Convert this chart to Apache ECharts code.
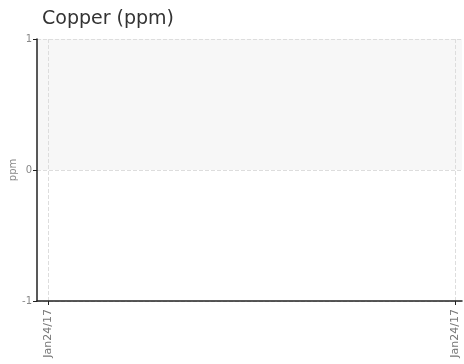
<!DOCTYPE html>
<html lang="en">
<head>
  <meta charset="UTF-8">
  <title>Copper (ppm)</title>
  <script src="https://cdn.jsdelivr.net/npm/echarts@6/dist/echarts.min.js"></script>
</head>
<body style="margin:0">
  <div id="main" style="width:464px;height:364px;"></div>
  <script type="text/javascript">
    // data
    var dateTicks = [0, 1];
    var dateLabels = ['Jan24/17', 'Jan24/17'];
    var yTicks = [-1, 0, 1];
    var copperValues = [];

    var myChart = echarts.init(document.getElementById('main'));

    var option = {
      animation: false,
      title: {
        text: 'Copper (ppm)',
        left: 37,
        top: 5,
        textStyle: { fontFamily: 'DejaVu Sans', fontSize: 19, fontWeight: 'normal', color: '#333' }
      },
      grid: { left: 37, top: 39, right: 2, bottom: 63, outerBoundsMode: 'none', containLabel: false },
      xAxis: {
        type: 'value',
        min: -0.027,
        max: 1.017,
        axisLine: { onZero: false, lineStyle: { color: '#222', width: 1.5 } },
        axisTick: { customValues: dateTicks, length: 4, lineStyle: { color: '#222' } },
        axisLabel: {
          customValues: dateTicks,
          rotate: 90,
          color: '#777',
          fontSize: 11,
          fontFamily: 'DejaVu Sans',
          formatter: function (v) { return dateLabels[dateTicks.indexOf(v)]; }
        },
        splitLine: { show: true, lineStyle: { color: '#ddd', type: 'dashed' } }
      },
      yAxis: {
        type: 'value',
        min: yTicks[0],
        max: yTicks[yTicks.length - 1],
        interval: 1,
        name: 'ppm',
        nameLocation: 'middle',
        nameGap: 19,
        nameMoveOverlap: false,
        nameTextStyle: { color: '#888', fontSize: 10, fontFamily: 'DejaVu Sans' },
        axisLine: { show: true, onZero: false, lineStyle: { color: '#222', width: 1.5 } },
        axisTick: { show: true, length: 4, lineStyle: { color: '#222' } },
        axisLabel: { color: '#888', fontSize: 10, fontFamily: 'DejaVu Sans', margin: 5 },
        splitLine: { show: true, lineStyle: { color: '#ddd', type: 'dashed' } },
        splitArea: { show: true, areaStyle: { color: ['rgba(255,255,255,0)', '#f7f7f7'] } }
      },
      series: [{
        type: 'line',
        data: copperValues
      }]
    };

    myChart.setOption(option);
  </script>
</body>
</html>
